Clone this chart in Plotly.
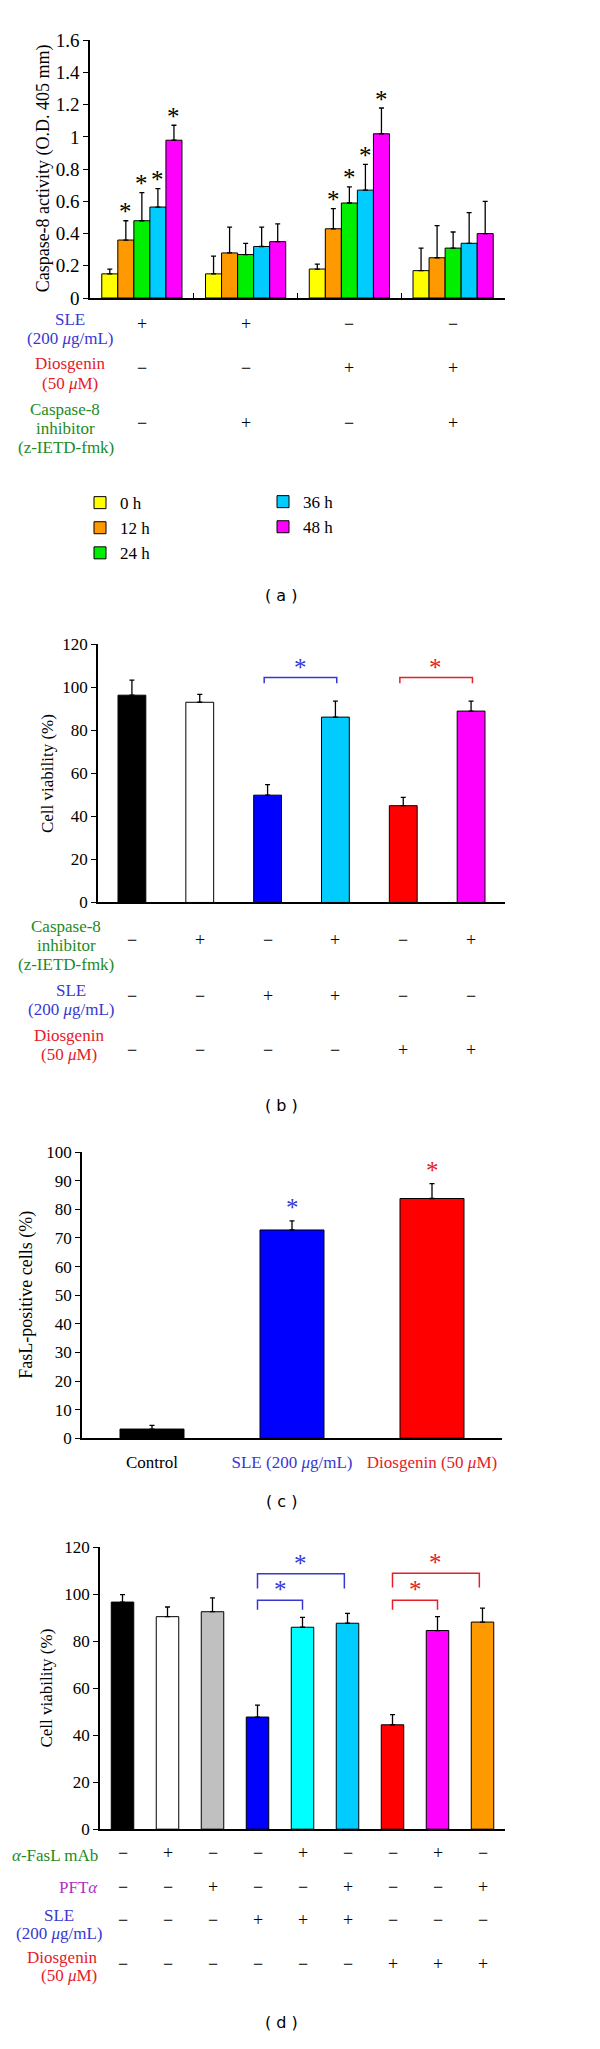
import plotly.graph_objects as go

W, H = 600, 2049
SERIF = "Liberation Serif"
BLUE_T = "#3838D0"
RED_T = "#E42028"
GREEN_T = "#1E8A1E"
PURPLE_T = "#B030C0"
MINUS = "\u2212"


def fx(p):
    return p / W


def fy(p):
    return 1 - p / H


# ---------------- data (a) ----------------
a_groups = [0, 1, 2, 3]
a_series = ["0 h", "12 h", "24 h", "36 h", "48 h"]
a_colors = ["#FFFF00", "#FF9900", "#00EE00", "#00CCFF", "#FF00FF"]
a_0h = [0.15, 0.15, 0.18, 0.17]
a_12h = [0.36, 0.28, 0.43, 0.25]
a_24h = [0.48, 0.27, 0.59, 0.31]
a_36h = [0.565, 0.32, 0.67, 0.34]
a_48h = [0.98, 0.35, 1.02, 0.40]
a_0h_sd = [0.03, 0.11, 0.03, 0.14]
a_12h_sd = [0.12, 0.16, 0.125, 0.20]
a_24h_sd = [0.175, 0.07, 0.10, 0.10]
a_36h_sd = [0.115, 0.12, 0.16, 0.19]
a_48h_sd = [0.093, 0.11, 0.16, 0.20]
a_star_series = ["12 h", "24 h", "36 h", "48 h"]
a_star_groups = [0, 2]
a_sle = ["+", "+", MINUS, MINUS]
a_dios = [MINUS, MINUS, "+", "+"]
a_casp = [MINUS, "+", MINUS, "+"]

# ---------------- data (b) ----------------
b_vals = [96.4, 93.1, 49.9, 86.2, 45.0, 89.0]
b_sd = [7.0, 3.7, 4.9, 7.4, 3.9, 4.6]
b_colors = ["#000000", "#FFFFFF", "#0000FF", "#00CCFF", "#FF0000", "#FF00FF"]
b_casp = [MINUS, "+", MINUS, "+", MINUS, "+"]
b_sle = [MINUS, MINUS, "+", "+", MINUS, MINUS]
b_dios = [MINUS, MINUS, MINUS, MINUS, "+", "+"]
b_brackets = [(2, 3, BLUE_T), (4, 5, RED_T)]

# ---------------- data (c) ----------------
c_labels = ["Control", "SLE (200 <i>\u03bc</i>g/mL)", "Diosgenin (50 <i>\u03bc</i>M)"]
c_label_colors = ["#000000", BLUE_T, RED_T]
c_vals = [3.2, 72.8, 83.8]
c_sd = [1.3, 3.2, 5.2]
c_colors = ["#000000", "#0000FF", "#FF0000"]
c_star = [None, BLUE_T, RED_T]

# ---------------- data (d) ----------------
d_vals = [96.6, 90.4, 92.5, 47.7, 85.9, 87.6, 44.4, 84.5, 88.1]
d_sd = [3.2, 4.1, 5.9, 5.1, 4.2, 4.2, 4.3, 5.9, 5.9]
d_colors = ["#000000", "#FFFFFF", "#C0C0C0", "#0000FF", "#00FFFF",
            "#00CCFF", "#FF0000", "#FF00FF", "#FF9900"]
d_fasl = [MINUS, "+", MINUS, MINUS, "+", MINUS, MINUS, "+", MINUS]
d_pft = [MINUS, MINUS, "+", MINUS, MINUS, "+", MINUS, MINUS, "+"]
d_sle = [MINUS, MINUS, MINUS, "+", "+", "+", MINUS, MINUS, MINUS]
d_dios = [MINUS, MINUS, MINUS, MINUS, MINUS, MINUS, "+", "+", "+"]
# (start, end, top, leg bottom, colour)
d_brackets = [(3, 4, 97.4, 93.3, BLUE_T), (3, 4.93, 108.7, 102.4, BLUE_T),
              (6, 7, 97.4, 93.3, RED_T), (6, 7.93, 108.9, 102.8, RED_T)]

BARGAP = 0.227

fig = go.Figure()

# ---- (a) bars ----
a_vals = [a_0h, a_12h, a_24h, a_36h, a_48h]
a_sds = [a_0h_sd, a_12h_sd, a_24h_sd, a_36h_sd, a_48h_sd]
for i, (name, vals, sds, col) in enumerate(zip(a_series, a_vals, a_sds, a_colors)):
    fig.add_trace(go.Bar(
        x=a_groups, y=vals, name=name,
        marker=dict(color=col, line=dict(color="black", width=1)),
        error_y=dict(type="data", array=sds, arrayminus=[0] * len(sds), symmetric=False,
                     color="black", thickness=1.3, width=2.5),
        xaxis="x", yaxis="y",
        legend="legend" if i < 3 else "legend2",
    ))

annotations = []
nser = len(a_series)
bw = (1 - BARGAP) / nser
for s in a_star_series:
    i = a_series.index(s)
    for g in a_star_groups:
        top = a_vals[i][g] + a_sds[i][g]
        annotations.append(dict(x=g + (i - (nser - 1) / 2) * bw, y=top, xref="x", yref="y",
                                text="*", showarrow=False, yanchor="middle", yshift=9,
                                font=dict(family=SERIF, size=25, color="black")))


def single_bars(xa, ya, vals, sds, colors, width):
    fig.add_trace(go.Bar(
        x=list(range(len(vals))), y=vals, width=width, showlegend=False,
        marker=dict(color=colors, line=dict(color="black", width=1)),
        error_y=dict(type="data", array=sds, arrayminus=[0] * len(sds), symmetric=False,
                     color="black", thickness=1.3, width=2.5),
        xaxis=xa, yaxis=ya,
    ))


single_bars("x2", "y2", b_vals, b_sd, b_colors, 0.41)
single_bars("x3", "y3", c_vals, c_sd, c_colors, 0.457)
single_bars("x4", "y4", d_vals, d_sd, d_colors, 0.5)

shapes = []
for x0, x1, col in b_brackets:
    shapes.append(dict(type="path", xref="x2", yref="y2",
                       path=f"M {x0 - 0.05},102 L {x0 - 0.05},104.6 L {x1 + 0.02},104.6 L {x1 + 0.02},102",
                       line=dict(color=col, width=1.5)))
    annotations.append(dict(x=(x0 + x1) / 2 - 0.02, y=108.5, xref="x2", yref="y2", text="*",
                            showarrow=False, yanchor="middle", yshift=2,
                            font=dict(family=SERIF, size=25, color=col)))
for x0, x1, top, leg, col in d_brackets:
    shapes.append(dict(type="path", xref="x4", yref="y4",
                       path=f"M {x0},{leg} L {x0},{top} L {x1},{top} L {x1},{leg}",
                       line=dict(color=col, width=1.5)))
    annotations.append(dict(x=(x0 + x1) / 2, y=top + 3.5, xref="x4", yref="y4", text="*",
                            showarrow=False, yanchor="middle", yshift=2,
                            font=dict(family=SERIF, size=25, color=col)))
for i, col in enumerate(c_star):
    if col:
        annotations.append(dict(x=i, y=c_vals[i] + c_sd[i] + 4, xref="x3", yref="y3", text="*",
                                showarrow=False, yanchor="middle", yshift=2,
                                font=dict(family=SERIF, size=25, color=col)))


def label(text, x, y, color, size=17, align="center", xanchor="center"):
    annotations.append(dict(x=fx(x), y=fy(y), xref="paper", yref="paper", text=text,
                            showarrow=False, xanchor=xanchor, yanchor="middle", align=align,
                            font=dict(family=SERIF, size=size, color=color)))


def signs(xa, row, y):
    for i, s in enumerate(row):
        annotations.append(dict(x=i, y=fy(y - 3), xref=xa, yref="paper", text=s, showarrow=False,
                                xanchor="center", yanchor="middle",
                                font=dict(family=SERIF, size=18, color="black")))


SLE1, SLE2 = "SLE", "(200 <i>\u03bc</i>g/mL)"
DI1, DI2 = "Diosgenin", "(50 <i>\u03bc</i>M)"

# (a) treatment table
label(SLE1, 70, 313, BLUE_T); label(SLE2, 70, 332, BLUE_T)
label(DI1, 70, 357, RED_T); label(DI2, 70, 377, RED_T)
label("Caspase-8", 65, 404, GREEN_T); label("inhibitor", 65, 423, GREEN_T)
label("(z-IETD-fmk)", 66, 442, GREEN_T)
signs("x", a_sle, 320)
signs("x", a_dios, 365)
signs("x", a_casp, 420)

# (b) treatment table
label("Caspase-8", 66, 926, GREEN_T); label("inhibitor", 66, 945, GREEN_T)
label("(z-IETD-fmk)", 66, 964, GREEN_T)
label(SLE1, 71, 991, BLUE_T); label(SLE2, 71, 1010, BLUE_T)
label(DI1, 69, 1036, RED_T); label(DI2, 69, 1055, RED_T)
signs("x2", b_casp, 943)
signs("x2", b_sle, 999)
signs("x2", b_dios, 1054)

# (d) treatment table
label("<i>\u03b1</i>-FasL mAb", 100, 1865, GREEN_T, xanchor="right")
label("PFT<i>\u03b1</i>", 100, 1897, PURPLE_T, xanchor="right")
label(SLE1, 59, 1925, BLUE_T); label(SLE2, 59, 1943, BLUE_T)
label(DI1, 99, 1968, RED_T, xanchor="right"); label(DI2, 99, 1986, RED_T, xanchor="right")
signs("x4", d_fasl, 1865)
signs("x4", d_pft, 1899)
signs("x4", d_sle, 1933)
signs("x4", d_dios, 1977)

# y-axis titles
for t, x, y, sz in [("Caspase-8 activity (O.D. 405 mm)", 43, 160, 18),
                    ("Cell viability (%)", 47, 772, 17),
                    ("FasL-positive cells (%)", 27, 1298, 18),
                    ("Cell viability (%)", 47, 1696, 17)]:
    annotations.append(dict(x=fx(x), y=fy(y), xref="paper", yref="paper", text=t, textangle=-90,
                            showarrow=False, xanchor="center", yanchor="middle",
                            font=dict(family=SERIF, size=sz, color="black")))

# panel labels
for t, y in [("( a )", 592), ("( b )", 1107), ("( c )", 1507), ("( d )", 2033)]:
    annotations.append(dict(x=fx(281), y=fy(y), xref="paper", yref="paper", text=t,
                            showarrow=False, xanchor="center", yanchor="middle",
                            font=dict(family="DejaVu Sans", size=16, color="black")))

line_common = dict(showline=True, linecolor="black", linewidth=1.5, showgrid=False,
                   zeroline=False, fixedrange=True)
y_common = dict(ticks="outside", ticklen=5, tickwidth=1.3, tickcolor="black",
                tickfont=dict(family=SERIF, size=17, color="black"), **line_common)

fig.update_layout(
    width=W, height=H, autosize=False,
    margin=dict(l=0, r=0, t=0, b=0),
    paper_bgcolor="white", plot_bgcolor="white",
    barmode="group", bargap=BARGAP, bargroupgap=0,
    xaxis=dict(domain=[fx(90), fx(505)], anchor="y", range=[-0.5, 3.5],
               tickvals=[0.5, 1.5, 2.5, 3.5], ticks="inside", ticklen=5, tickwidth=1.3,
               tickcolor="black", showticklabels=False, **line_common),
    yaxis=dict(domain=[fy(291), fy(30.7)], anchor="x", range=[0, 1.6], dtick=0.2,
               **{**y_common, "tickfont": dict(family=SERIF, size=19, color="black")}),
    xaxis2=dict(domain=[fx(98), fx(505)], anchor="y2", range=[-0.5, 5.5],
                showticklabels=False, ticks="", **line_common),
    yaxis2=dict(domain=[fy(901.7), fy(641)], anchor="x2", range=[0, 120], dtick=20, **y_common),
    xaxis3=dict(domain=[fx(82), fx(502)], anchor="y3", range=[-0.5, 2.5],
                tickvals=[0, 1, 2],
                ticktext=[f'<span style="color:{c}">{t}</span>' for t, c in zip(c_labels, c_label_colors)],
                ticks="", ticklabelstandoff=8,
                tickfont=dict(family=SERIF, size=17, color="black"), **line_common),
    yaxis3=dict(domain=[fy(1443), fy(1154)], anchor="x3", range=[0, 100], dtick=10, **y_common),
    xaxis4=dict(domain=[fx(100), fx(505)], anchor="y4", range=[-0.5, 8.5],
                showticklabels=False, ticks="", **line_common),
    yaxis4=dict(domain=[fy(1838), fy(1553)], anchor="x4", range=[0, 120], dtick=20, **y_common),
    legend=dict(x=fx(80), y=fy(480), xanchor="left", yanchor="top", bgcolor="rgba(0,0,0,0)",
                font=dict(family=SERIF, size=17, color="black"), tracegroupgap=0,
                itemclick=False, itemdoubleclick=False),
    legend2=dict(x=fx(263), y=fy(479), xanchor="left", yanchor="top", bgcolor="rgba(0,0,0,0)",
                 font=dict(family=SERIF, size=17, color="black"), tracegroupgap=0,
                 itemclick=False, itemdoubleclick=False),
    annotations=annotations,
    shapes=shapes,
)

fig.write_html("out.html", config={"displayModeBar": False},
               post_script="document.body.style.margin='0';document.body.style.overflow='hidden';")
